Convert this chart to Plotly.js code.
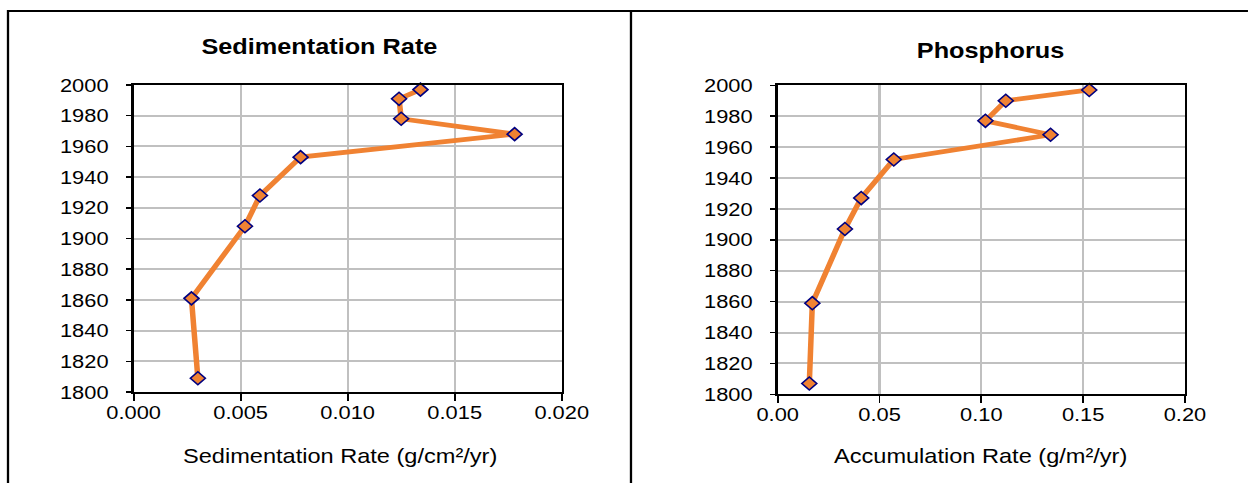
<!DOCTYPE html>
<html>
<head>
<meta charset="utf-8">
<script src="https://cdn.plot.ly/plotly-3.0.1.min.js"></script>
<style>
  html, body { margin: 0; padding: 0; background: #ffffff; overflow: hidden; }
  #wrap { width: 1248px; height: 483px; overflow: hidden; }
  #chart { width: 1085px; height: 483px; transform: scaleX(1.1502); transform-origin: 0 0; }
</style>
</head>
<body>
<div id="wrap"><div id="chart"></div></div>
<script>
// ---- Data ----
const sedYears  = [1997, 1991, 1978, 1968, 1953, 1928, 1908, 1861, 1809];
const sedRate   = [0.0134, 0.0124, 0.0125, 0.0178, 0.0078, 0.0059, 0.0052, 0.0027, 0.0030];
const phosYears = [1997, 1990, 1977, 1968, 1952, 1927, 1907, 1859, 1807];
const phosRate  = [0.153, 0.112, 0.102, 0.134, 0.057, 0.041, 0.033, 0.017, 0.0155];

const leftTitle  = "Sedimentation Rate";
const rightTitle = "Phosphorus";
const leftXLabel  = "Sedimentation Rate (g/cm\u00B2/yr)";
const rightXLabel = "Accumulation Rate (g/m\u00B2/yr)";

// ---- Styles ----
const FONT = "Liberation Sans, Arial, sans-serif";
const ORANGE = "#F08232";
const NAVY = "#000080";
const GRID = "#C0C0C0";

function series(x, y, xa, ya) {
  return {
    x: x, y: y, xaxis: xa, yaxis: ya,
    type: "scatter", mode: "lines+markers",
    line: { color: ORANGE, width: 4.8 },
    marker: { symbol: "diamond", size: 10, color: ORANGE, line: { color: NAVY, width: 1.5 } },
    cliponaxis: false, hoverinfo: "skip", showlegend: false
  };
}

const data = [
  series(sedRate, sedYears, "x", "y"),
  series(phosRate, phosYears, "x2", "y2")
];

function xaxis(domain, anchor, range, dtick, fmt) {
  return {
    domain: domain, anchor: anchor, range: range, dtick: dtick, tick0: 0,
    tickformat: fmt, showgrid: true, gridcolor: GRID, gridwidth: 2,
    zeroline: false, showline: true, linecolor: "#000", linewidth: 2, mirror: true,
    ticks: "outside", ticklen: 7, tickwidth: 1.5, tickcolor: "#000",
    ticklabelstandoff: -5,
    tickfont: { family: FONT, size: 19, color: "#000" },
    fixedrange: true
  };
}
function yaxis(domain, anchor) {
  return {
    domain: domain, anchor: anchor, range: [1800, 2000], dtick: 20, tick0: 1800,
    showgrid: true, gridcolor: GRID, gridwidth: 2,
    zeroline: false, showline: true, linecolor: "#000", linewidth: 2, mirror: true,
    ticks: "outside", ticklen: 5, tickwidth: 1.5, tickcolor: "#000",
    ticklabelstandoff: 11,
    tickfont: { family: FONT, size: 19, color: "#000" }, fixedrange: true
  };
}

function vline(x, y0, y1) {
  return { type: "line", xref: "paper", yref: "paper", x0: x, x1: x, y0: y0, y1: y1,
           line: { color: "#000", width: 2 } };
}
function hline(y, x0, x1) {
  return { type: "line", xref: "paper", yref: "paper", x0: x0, x1: x1, y0: y, y1: y,
           line: { color: "#000", width: 2 } };
}

const layout = {
  width: 1085, height: 483,
  margin: { l: 0, r: 0, t: 0, b: 0, pad: 0 },
  paper_bgcolor: "#ffffff", plot_bgcolor: "#ffffff",
  font: { family: FONT, color: "#000" },
  showlegend: false,
  xaxis:  xaxis([0.1071, 0.4501], "y",  [0, 0.02], 0.005, ".3f"),
  yaxis:  yaxis([0.1884, 0.8240], "x"),
  xaxis2: xaxis([0.6232, 0.9495], "y2", [0, 0.2], 0.05, ".2f"),
  yaxis2: yaxis([0.1836, 0.8234], "x2"),
  shapes: [
    vline(8 / 1248, 0, 1 - 10 / 483),
    hline(1 - 11 / 483, 8 / 1248, 1),
    vline(631 / 1248, 0, 1 - 11 / 483)
  ],
  annotations: [
    { text: leftTitle, xref: "paper", yref: "paper", x: 0.2556, y: 1 - 46 / 483,
      xanchor: "center", yanchor: "middle", showarrow: false,
      font: { family: FONT, size: 22, weight: "bold", color: "#000" } },
    { text: rightTitle, xref: "paper", yref: "paper", x: 0.7933, y: 1 - 50 / 483,
      xanchor: "center", yanchor: "middle", showarrow: false,
      font: { family: FONT, size: 22, weight: "bold", color: "#000" } },
    { text: leftXLabel, xref: "paper", yref: "paper", x: 340 / 1248, y: 1 - 455 / 483,
      xanchor: "center", yanchor: "middle", showarrow: false,
      font: { family: FONT, size: 20.5, color: "#000" } },
    { text: rightXLabel, xref: "paper", yref: "paper", x: 980 / 1248, y: 1 - 455 / 483,
      xanchor: "center", yanchor: "middle", showarrow: false,
      font: { family: FONT, size: 20.5, color: "#000" } }
  ]
};

Plotly.newPlot("chart", data, layout, { staticPlot: true, displayModeBar: false });
</script>
</body>
</html>
